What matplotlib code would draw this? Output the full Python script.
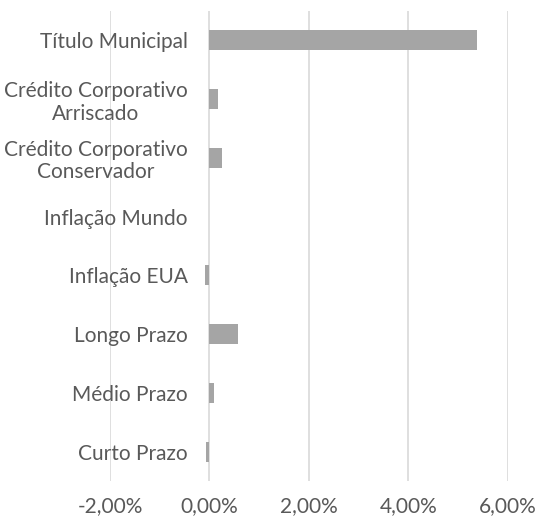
import matplotlib.pyplot as plt
from matplotlib.ticker import FuncFormatter

categories = ['Curto Prazo', 'Médio Prazo', 'Longo Prazo', 'Inflação EUA',
              'Inflação Mundo', 'Crédito Corporativo\nConservador',
              'Crédito Corporativo\nArriscado', 'Título Municipal']
values = [-0.06, 0.10, 0.58, -0.10, 0.0, 0.26, 0.18, 5.38]
x_ticks = [-2, 0, 2, 4, 6]

plt.rcParams['font.family'] = ['Lato', 'DejaVu Sans']

fig = plt.figure(figsize=(5.42, 5.24), dpi=100)
ax = fig.add_axes([0.203, 0.082, 0.734, 0.897])

ypos = list(range(len(categories)))
ax.barh(ypos, values, height=0.34, color='#A5A5A5', zorder=3)

ax.set_xlim(-2, 6)
ax.set_ylim(-0.5, len(categories) - 0.5)
ax.set_xticks(x_ticks)
ax.xaxis.set_major_formatter(FuncFormatter(lambda v, p: f'{v:.2f}%'.replace('.', ',')))
ax.set_yticks(ypos)
ax.set_yticklabels(categories, multialignment='center', linespacing=1.15)

ax.grid(axis='x', color='#D9D9D9', linewidth=1.2, zorder=0)
ax.grid(axis='y', visible=False)
for s in ax.spines.values():
    s.set_visible(False)

ax.tick_params(axis='both', length=0, labelsize=15, labelcolor='#595959')
ax.tick_params(axis='x', pad=11)
ax.tick_params(axis='y', pad=-56)

fig.savefig('out.png', dpi=100)
